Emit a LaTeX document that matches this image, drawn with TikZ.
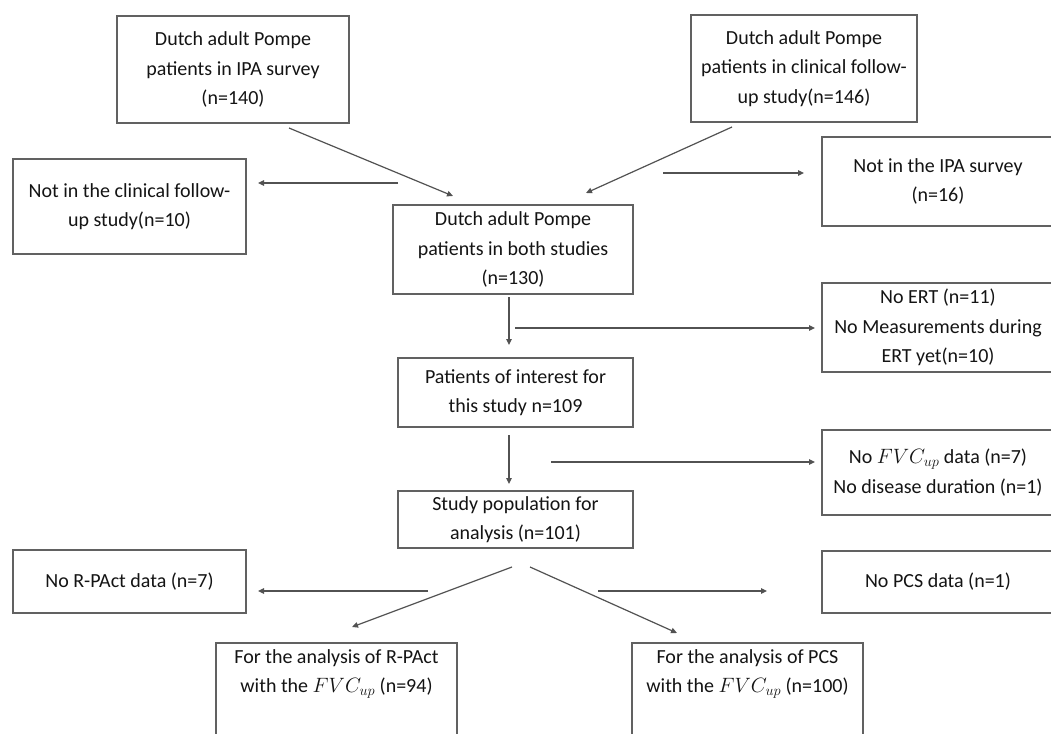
\documentclass[tikz,border=0pt]{standalone}
\usepackage{fontspec}
\setmainfont{Carlito}
\usetikzlibrary{arrows.meta}
\begin{document}
\begin{tikzpicture}[x=1pt,y=-1pt,
  box/.style={draw=black!62, line width=1.4pt, align=center, inner sep=0pt,
    font=\fontsize{20}{29.5}\selectfont, text=black!92},
  arr/.style={draw=black!68, line width=1.2pt, -{Triangle[length=6pt,width=5.5pt]}}]
\useasboundingbox (0,0) rectangle (1051,733);
\clip (0,0) rectangle (1051,733);
\fill[white] (0,0) rectangle (1051,733);

% boxes
\node[box, minimum width=232pt, minimum height=107pt] (ipa) at (233,69.5)
  {Dutch adult Pompe\\patients in IPA survey\\(n=140)};
\node[box, minimum width=226pt, minimum height=107pt] (clin) at (804,68.5)
  {Dutch adult Pompe\\patients in clinical follow-\\up study(n=146)};
\node[box, minimum width=233pt, minimum height=95pt] (notclin) at (129.5,206.5)
  {Not in the clinical follow-\\up study(n=10)};
\node[box, minimum width=240pt, minimum height=89pt] (both) at (513,249.5)
  {Dutch adult Pompe\\patients in both studies\\(n=130)};
\node[box, minimum width=232pt, minimum height=89pt] (notipa) at (938,181.5)
  {Not in the IPA survey\\(n=16)};
\node[box, minimum width=232pt, minimum height=89pt] (noert) at (938,327.5)
  {No ERT (n=11)\\No Measurements during\\ERT yet(n=10)};
\node[box, minimum width=235pt, minimum height=69pt] (interest) at (515.5,392.5)
  {Patients of interest for\\this study n=109};
\node[box, minimum width=232pt, minimum height=85pt] (nofvc) at (938,472.5)
  {No $\mathbf{}FVC_{up}$ data (n=7)\\No disease duration (n=1)};
\node[box, minimum width=235pt, minimum height=57pt] (pop) at (515.5,519.5)
  {Study population for\\analysis (n=101)};
\node[box, minimum width=233pt, minimum height=63pt] (norpact) at (129.5,581.5)
  {No R-PAct data (n=7)};
\node[box, minimum width=232pt, minimum height=62pt] (nopcs) at (938,582)
  {No PCS data (n=1)};
\node[box, minimum width=241pt, minimum height=94pt] (rpact) at (336.5,690)
  {For the analysis of R-PAct\\with the $FVC_{up}$ (n=94)\\\strut};
\node[box, minimum width=231pt, minimum height=94pt] (pcs) at (747.5,690)
  {For the analysis of PCS\\with the $FVC_{up}$ (n=100)\\\strut};

% arrow end points
\coordinate (a1s) at (289,128);  \coordinate (a1e) at (453,196);
\coordinate (a2s) at (732,127);  \coordinate (a2e) at (586,193);
\coordinate (a3s) at (398,183);  \coordinate (a3e) at (258,183);
\coordinate (a4s) at (663,173);  \coordinate (a4e) at (804,173);
\coordinate (a5s) at (509,297);  \coordinate (a5e) at (509,345);
\coordinate (a6s) at (515,328);  \coordinate (a6e) at (815,328);
\coordinate (a7s) at (509,435);  \coordinate (a7e) at (509,484);
\coordinate (a8s) at (551,462);  \coordinate (a8e) at (815,462);
\coordinate (a9s) at (512,567);  \coordinate (a9e) at (352,627);
\coordinate (a10s) at (428,591); \coordinate (a10e) at (258,591);
\coordinate (a11s) at (530,567); \coordinate (a11e) at (677,633);
\coordinate (a12s) at (598,591); \coordinate (a12e) at (767,591);

\draw[arr] (a1s) -- (a1e);
\draw[arr] (a2s) -- (a2e);
\draw[arr] (a3s) -- (a3e);
\draw[arr] (a4s) -- (a4e);
\draw[arr] (a5s) -- (a5e);
\draw[arr] (a6s) -- (a6e);
\draw[arr] (a7s) -- (a7e);
\draw[arr] (a8s) -- (a8e);
\draw[arr] (a9s) -- (a9e);
\draw[arr] (a10s) -- (a10e);
\draw[arr] (a11s) -- (a11e);
\draw[arr] (a12s) -- (a12e);
\end{tikzpicture}
\end{document}
